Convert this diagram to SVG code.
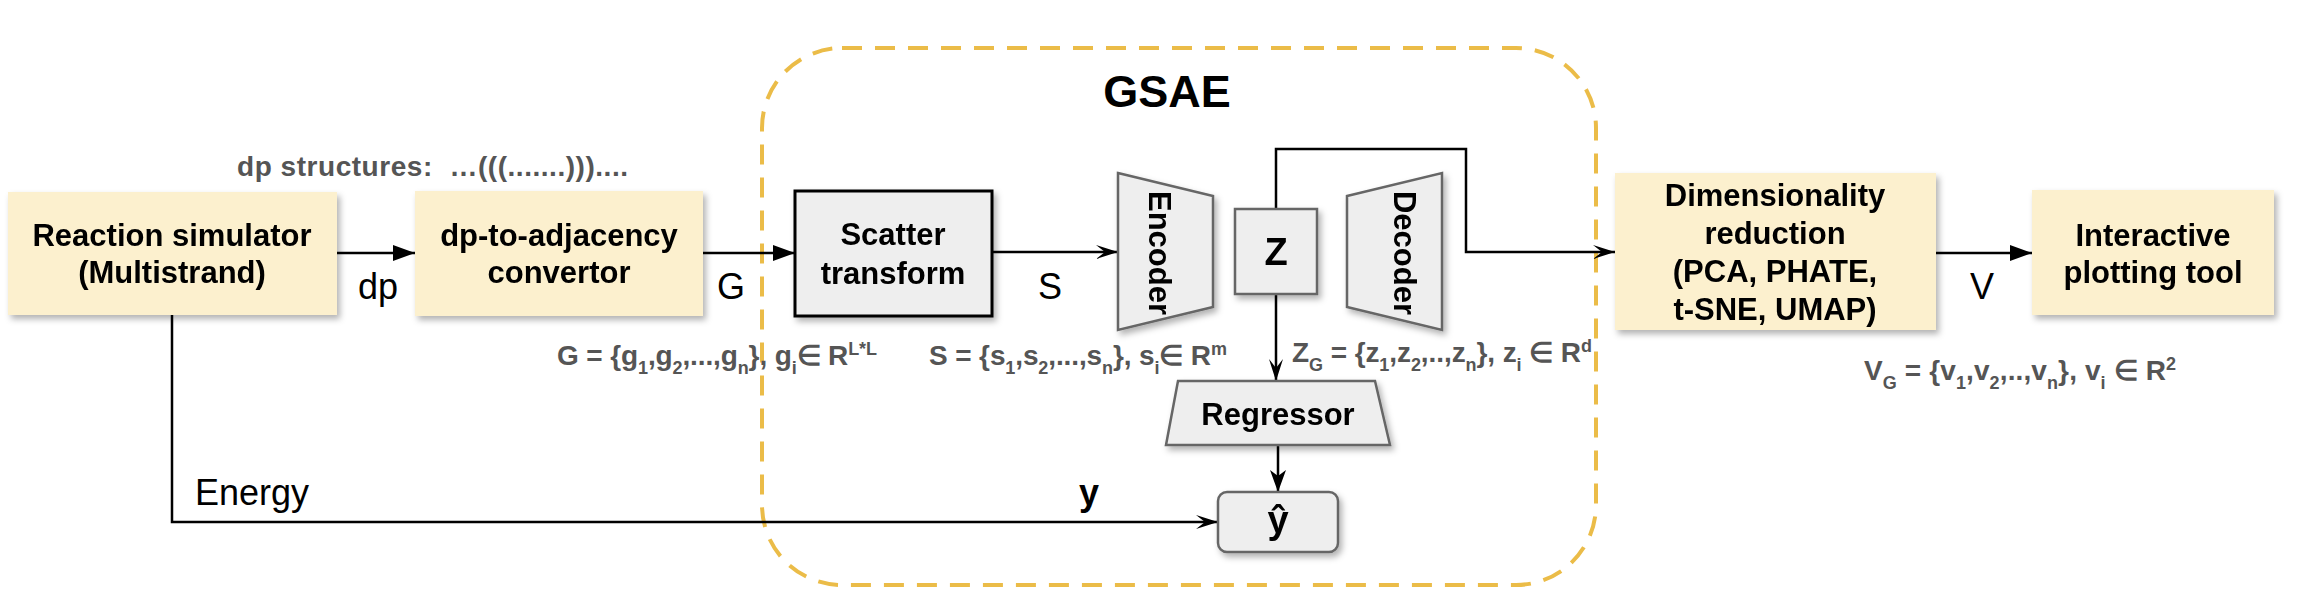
<svg xmlns="http://www.w3.org/2000/svg" width="2302" height="616" viewBox="0 0 2302 616">
<style>
  .lbl { font-family: "Liberation Sans", Arial, sans-serif; font-weight: bold; font-size: 31px; fill: #000; text-anchor: middle; }
  .big { font-size: 38px; }
  .edge { font-family: "Liberation Sans", Arial, sans-serif; font-size: 36px; fill: #000; }
  .math { font-family: "Liberation Sans", Arial, sans-serif; font-weight: bold; font-size: 28px; fill: #555555; }
  .sub { font-size: 18px; }
  .yellow { fill: #FCF0CE; stroke: none; }
  .grey { fill: #EEEEEE; stroke: #666666; stroke-width: 2.5; }
  .conn { fill: none; stroke: #000; stroke-width: 2.5; }
</style>
<defs>
  <filter id="shadow" x="-10%" y="-10%" width="130%" height="140%">
    <feDropShadow dx="3" dy="4" stdDeviation="3" flood-color="#000" flood-opacity="0.3"/>
  </filter>
  <marker id="block" markerUnits="userSpaceOnUse" viewBox="0 0 22 16" markerWidth="22" markerHeight="16" refX="22" refY="8" orient="auto">
    <path d="M0,0 L22,8 L0,16 z" fill="#000"/>
  </marker>
  <marker id="stealth" markerUnits="userSpaceOnUse" viewBox="0 0 22 16" markerWidth="22" markerHeight="16" refX="22" refY="8" orient="auto">
    <path d="M0,1 L22,8 L0,15 L9,8 z" fill="#000"/>
  </marker>
  <marker id="classic" markerUnits="userSpaceOnUse" viewBox="0 0 22 16" markerWidth="22" markerHeight="16" refX="22" refY="8" orient="auto">
    <path d="M0,0 L22,8 L0,16 L6,8 z" fill="#000"/>
  </marker>
</defs>
<rect width="2302" height="616" fill="#fff"/>

<g id="gsae-container">
  <rect x="762" y="48" width="834" height="537" rx="80" ry="80" fill="none" stroke="#EBBC48" stroke-width="4" stroke-dasharray="20 13"/>
  <text x="1167" y="107" style="font-family:'Liberation Sans',Arial,sans-serif;font-weight:bold;font-size:45px;text-anchor:middle">GSAE</text>
</g>

<g id="connectors">
  <line class="conn" x1="337" y1="253" x2="415" y2="253" marker-end="url(#block)"/>
  <line class="conn" x1="703" y1="253" x2="795" y2="253" marker-end="url(#block)"/>
  <line class="conn" x1="992" y1="252" x2="1118" y2="252" marker-end="url(#stealth)"/>
  <polyline class="conn" points="1276,209 1276,149 1466,149 1466,252 1615,252" marker-end="url(#stealth)"/>
  <line class="conn" x1="1936" y1="253" x2="2032" y2="253" marker-end="url(#block)"/>
  <line class="conn" x1="1276" y1="294" x2="1276" y2="381" marker-end="url(#stealth)"/>
  <line class="conn" x1="1278" y1="445" x2="1278" y2="492" marker-end="url(#classic)"/>
  <polyline class="conn" points="172,315 172,522 1218,522" marker-end="url(#stealth)"/>
  <text class="edge" x="358" y="299">dp</text>
  <text class="edge" x="717" y="299">G</text>
  <text class="edge" x="1038" y="299">S</text>
  <text class="edge" x="1982" y="299" text-anchor="middle">V</text>
  <text class="edge" x="195" y="505">Energy</text>
  <text class="edge" x="1079" y="505" font-weight="bold">y</text>
</g>

<g id="dp-structures">
  <text class="math" x="237" y="176" xml:space="preserve" textLength="391">dp structures:  …(((.......)))....</text>
</g>

<g id="reaction-simulator" filter="url(#shadow)">
  <rect class="yellow" x="8" y="192" width="329" height="123"/>
  <text class="lbl" x="172" y="246">Reaction simulator</text>
  <text class="lbl" x="172" y="283">(Multistrand)</text>
</g>

<g id="dp-to-adjacency" filter="url(#shadow)">
  <rect class="yellow" x="415" y="191" width="288" height="125"/>
  <text class="lbl" x="559" y="246">dp-to-adjacency</text>
  <text class="lbl" x="559" y="283">convertor</text>
</g>

<g id="scatter-transform" filter="url(#shadow)">
  <rect x="795" y="191" width="197" height="125" fill="#EEEEEE" stroke="#000" stroke-width="3"/>
  <text class="lbl" x="893" y="245">Scatter</text>
  <text class="lbl" x="893" y="284">transform</text>
</g>

<g id="encoder" filter="url(#shadow)">
  <polygon class="grey" points="1118,173 1213,196 1213,307 1118,330"/>
  <text class="lbl" transform="translate(1160,253) rotate(90)" x="0" y="11">Encoder</text>
</g>

<g id="z" filter="url(#shadow)">
  <rect class="grey" x="1235" y="209" width="82" height="85"/>
  <text class="lbl big" x="1276" y="265">Z</text>
</g>

<g id="decoder" filter="url(#shadow)">
  <polygon class="grey" points="1347,196 1442,173 1442,330 1347,307"/>
  <text class="lbl" transform="translate(1405,253) rotate(90)" x="0" y="11">Decoder</text>
</g>

<g id="regressor" filter="url(#shadow)">
  <polygon class="grey" points="1178,381 1375,381 1390,445 1166,445"/>
  <text class="lbl" x="1278" y="425">Regressor</text>
</g>

<g id="y-hat" filter="url(#shadow)">
  <rect class="grey" x="1218" y="492" width="120" height="60" rx="9" ry="9"/>
  <text class="lbl big" x="1278" y="533">ŷ</text>
</g>

<g id="dimensionality-reduction" filter="url(#shadow)">
  <rect class="yellow" x="1615" y="173" width="321" height="157"/>
  <text class="lbl" x="1775" y="206">Dimensionality</text>
  <text class="lbl" x="1775" y="244">reduction</text>
  <text class="lbl" x="1775" y="282">(PCA, PHATE,</text>
  <text class="lbl" x="1775" y="320">t-SNE, UMAP)</text>
</g>

<g id="interactive-plotting" filter="url(#shadow)">
  <rect class="yellow" x="2032" y="190" width="242" height="125"/>
  <text class="lbl" x="2153" y="246">Interactive</text>
  <text class="lbl" x="2153" y="283">plotting tool</text>
</g>

<g id="formulas">
  <text class="math" x="557" y="365" textLength="320">G = {g<tspan class="sub" dy="9">1</tspan><tspan dy="-9">,g</tspan><tspan class="sub" dy="9">2</tspan><tspan dy="-9">,...,g</tspan><tspan class="sub" dy="9">n</tspan><tspan dy="-9">}, g</tspan><tspan class="sub" dy="9">i</tspan><tspan dy="-9">∈ R</tspan><tspan class="sub" dy="-10">L*L</tspan></text>
  <text class="math" x="929" y="365" textLength="298">S = {s<tspan class="sub" dy="9">1</tspan><tspan dy="-9">,s</tspan><tspan class="sub" dy="9">2</tspan><tspan dy="-9">,...,s</tspan><tspan class="sub" dy="9">n</tspan><tspan dy="-9">}, s</tspan><tspan class="sub" dy="9">i</tspan><tspan dy="-9">∈ R</tspan><tspan class="sub" dy="-10">m</tspan></text>
  <text class="math" x="1292" y="362" textLength="300">Z<tspan class="sub" dy="9">G</tspan><tspan dy="-9"> = {z</tspan><tspan class="sub" dy="9">1</tspan><tspan dy="-9">,z</tspan><tspan class="sub" dy="9">2</tspan><tspan dy="-9">,..,z</tspan><tspan class="sub" dy="9">n</tspan><tspan dy="-9">}, z</tspan><tspan class="sub" dy="9">i</tspan><tspan dy="-9"> ∈ R</tspan><tspan class="sub" dy="-10">d</tspan></text>
  <text class="math" x="1864" y="380" textLength="312">V<tspan class="sub" dy="9">G</tspan><tspan dy="-9"> = {v</tspan><tspan class="sub" dy="9">1</tspan><tspan dy="-9">,v</tspan><tspan class="sub" dy="9">2</tspan><tspan dy="-9">,..,v</tspan><tspan class="sub" dy="9">n</tspan><tspan dy="-9">}, v</tspan><tspan class="sub" dy="9">i</tspan><tspan dy="-9"> ∈ R</tspan><tspan class="sub" dy="-10">2</tspan></text>
</g>
</svg>
